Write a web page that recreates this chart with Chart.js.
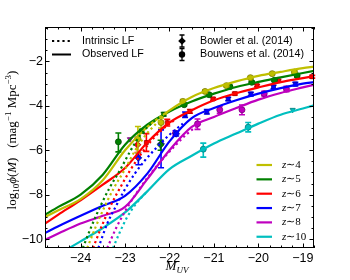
<!DOCTYPE html>
<html><head><meta charset="utf-8">
<script src="https://cdn.jsdelivr.net/npm/chart.js@4/dist/chart.umd.min.js"></script>
<style>html,body{margin:0;padding:0;background:#fff;}canvas{display:block;}</style>
</head><body>
<canvas id="c" width="350" height="280"></canvas>
<script>
// ---------------- data ----------------
const magGrid = [-24.8,-24.5,-24,-23.5,-23,-22.5,-22,-21.5,-21,-20.5,-20,-19.5,-19,-18.75];
const obsZ4 = [-9.0,-8.7,-8.2,-7.35,-6.0,-4.95,-4.2,-3.6,-3.2,-2.9,-2.65,-2.47,-2.3,-2.23];
const obsZ5 = [-8.9,-8.55,-8.0,-7.1,-5.75,-4.85,-4.25,-3.8,-3.45,-3.15,-2.92,-2.72,-2.52,-2.42];
const obsZ6 = [-9.3,-8.9,-8.25,-7.55,-6.8,-5.65,-4.75,-4.2,-3.75,-3.43,-3.17,-2.93,-2.75,-2.66];
const obsZ7 = [-9.72,-9.42,-8.95,-8.5,-8.05,-7.05,-5.6,-4.55,-4.1,-3.75,-3.45,-3.2,-3.0,-2.93];
const obsZ8 = [-10.03,-9.75,-9.3,-8.95,-8.55,-7.3,-6.0,-4.95,-4.5,-4.1,-3.72,-3.42,-3.17,-3.05];
const magGridZ10 = [-24.25,-24,-23.5,-23,-22.5,-22,-21.5,-21,-20.5,-20,-19.5,-19,-18.75];
const obsZ10 = [-10.4,-10.1,-9.5,-8.8,-7.85,-6.85,-6.25,-5.7,-5.25,-4.8,-4.4,-4.12,-3.98];

// intrinsic LFs (dotted), until they join the observed curves
const intMagZ4 = [-23.85,-23.65,-23.45,-23.25,-23.0,-22.8,-22.55,-22.3,-22.05];
const intZ4    = [-10.4,-9.4,-8.5,-7.7,-6.85,-6.1,-5.35,-4.8,-4.3];
const intMagZ5 = [-23.95,-23.75,-23.55,-23.35,-23.1,-22.9,-22.65,-22.4,-22.15];
const intZ5    = [-10.4,-9.4,-8.5,-7.7,-6.85,-6.1,-5.3,-4.78,-4.4];
const intMagZ6 = [-23.72,-23.5,-23.3,-23.1,-22.9,-22.65,-22.4,-22.15,-21.9];
const intZ6    = [-10.4,-9.3,-8.4,-7.65,-6.95,-6.2,-5.55,-5.05,-4.65];
const intMagZ7 = [-23.6,-23.4,-23.2,-23.0,-22.78,-22.55,-22.3,-22.0,-21.7];
const intZ7    = [-10.4,-9.3,-8.5,-7.75,-7.05,-6.45,-5.9,-5.3,-4.8];
const intMagZ8 = [-23.4,-23.2,-23.0,-22.75,-22.5,-22.2,-21.9,-21.6,-21.3];
const intZ8    = [-10.4,-9.5,-8.75,-7.95,-7.25,-6.5,-5.85,-5.25,-4.8];
const intMagZ10 = [-23.27,-23.12,-22.95,-22.75,-22.5];
const intZ10    = [-10.4,-9.7,-9.0,-8.4,-7.85];

// measured points: magnitude, log phi, error up, error down, marker
const ptMagZ4 = [-22.71,-22.19,-21.70,-21.20,-20.72,-20.18,-19.69,-19.19];
const ptPhiZ4 = [-5.48,-4.75,-3.80,-3.35,-3.09,-2.73,-2.55,-2.48];
const ptErrUpZ4 = [0.55,0.2,0.08,0.06,0.05,0.05,0.05,0.06];
const ptErrDnZ4 = [0.63,0.25,0.1,0.06,0.05,0.05,0.05,0.06];
const ptMarkZ4 = ['circle','circle','circle','circle','circle','circle','circle','circle'];

const ptMagZ5 = [-23.15,-22.62,-22.2,-22.13,-21.67,-21.11,-20.64,-20.15,-19.64,-19.13];
const ptPhiZ5 = [-5.62,-5.14,-5.75,-4.38,-3.95,-3.50,-3.14,-2.94,-2.85,-2.64];
const ptErrUpZ5 = [0.4,0.08,0.2,0.08,0.06,0.05,0.05,0.05,0.05,0.06];
const ptErrDnZ5 = [0.45,0.08,0.25,0.08,0.06,0.05,0.05,0.05,0.05,0.06];
const ptMarkZ5 = ['circle','rect','rectRot','rect','circle','circle','circle','circle','circle','circle'];

const ptMagZ6 = [-22.72,-22.52,-22.05,-21.54,-21.02,-20.53,-20.03,-19.55,-18.79];
const ptPhiZ6 = [-5.75,-5.65,-4.76,-4.25,-3.69,-3.45,-3.09,-2.87,-2.69];
const ptErrUpZ6 = [0.3,0.4,0.15,0.08,0.06,0.06,0.05,0.05,0.06];
const ptErrDnZ6 = [0.35,0.4,0.15,0.08,0.06,0.06,0.05,0.05,0.06];
const ptMarkZ6 = ['rectRot','rect','rect','rect','rect','rect','rect','rect','rect'];

const ptMagZ7 = [-22.70,-22.19,-21.85,-21.65,-21.16,-20.68,-20.17,-19.66,-19.17];
const ptPhiZ7 = [-6.34,-5.71,-5.26,-4.40,-4.27,-3.69,-3.47,-3.15,-3.02];
const ptErrUpZ7 = [0.23,0.63,0.1,0.12,0.1,0.08,0.08,0.08,0.08];
const ptErrDnZ7 = [0.31,1.08,0.1,0.12,0.1,0.08,0.08,0.08,0.08];
const ptMarkZ7 = ['rectRot','rectRot','rectRot','rect','rect','rect','rect','rect','rect'];

const ptMagZ8 = [-22.89,-21.87,-21.37,-20.87,-20.37,-19.87,-19.37];
const ptPhiZ8 = [-5.50,-5.23,-4.81,-4.18,-4.18,-3.45,-3.24];
const ptErrUpZ8 = [0,0.1,0.22,0.15,0.22,0.1,0.12];
const ptErrDnZ8 = [0,0.1,0.25,0.15,0.22,0.1,0.12];
const ptMarkZ8 = ['triangleDown','rectRot','circle','circle','circle','circle','circle'];

const ptMagZ10 = [-21.24,-20.23,-19.23];
const ptPhiZ10 = [-5.95,-4.96,-4.18];
const ptErrUpZ10 = [0.27,0.21,0];
const ptErrDnZ10 = [0.36,0.21,0];
const ptMarkZ10 = ['circle','circle','triangleDown'];

const legendZ = ['z\u223C4','z\u223C5','z\u223C6','z\u223C7','z\u223C8','z\u223C10'];
const xTicks = [-24,-23,-22,-21,-20,-19];
const yTicks = [-10,-8,-6,-4,-2];

// ---------------- styles ----------------
const colors = ['#bfbf00','#008000','#ff0000','#0000ff','#bf00bf','#00bfbf'];
const edge   = ['#7a7a00','#004d00','#a00000','#00009a','#7a007a','#007a7a'];

const series = [
  {obsM: magGrid, obs: obsZ4, intM: intMagZ4, int: intZ4, pM: ptMagZ4, p: ptPhiZ4, eu: ptErrUpZ4, ed: ptErrDnZ4, mk: ptMarkZ4},
  {obsM: magGrid, obs: obsZ5, intM: intMagZ5, int: intZ5, pM: ptMagZ5, p: ptPhiZ5, eu: ptErrUpZ5, ed: ptErrDnZ5, mk: ptMarkZ5},
  {obsM: magGrid, obs: obsZ6, intM: intMagZ6, int: intZ6, pM: ptMagZ6, p: ptPhiZ6, eu: ptErrUpZ6, ed: ptErrDnZ6, mk: ptMarkZ6},
  {obsM: magGrid, obs: obsZ7, intM: intMagZ7, int: intZ7, pM: ptMagZ7, p: ptPhiZ7, eu: ptErrUpZ7, ed: ptErrDnZ7, mk: ptMarkZ7},
  {obsM: magGrid, obs: obsZ8, intM: intMagZ8, int: intZ8, pM: ptMagZ8, p: ptPhiZ8, eu: ptErrUpZ8, ed: ptErrDnZ8, mk: ptMarkZ8},
  {obsM: magGridZ10, obs: obsZ10, intM: intMagZ10, int: intZ10, pM: ptMagZ10, p: ptPhiZ10, eu: ptErrUpZ10, ed: ptErrDnZ10, mk: ptMarkZ10}
];

const zip = (xs, ys) => xs.map((x, i) => ({x: x, y: ys[i]}));
const datasets = [];
series.forEach((s, i) => {
  datasets.push({type: 'line', data: zip(s.intM, s.int), borderColor: colors[i], borderWidth: 2.2,
    borderDash: [2.2, 3], pointRadius: 0, cubicInterpolationMode: 'monotone', fill: false});
});
series.forEach((s, i) => {
  datasets.push({type: 'line', data: zip(s.obsM, s.obs), borderColor: colors[i], borderWidth: 2.2,
    pointRadius: 0, cubicInterpolationMode: 'monotone', fill: false});
});
series.forEach((s, i) => {
  datasets.push({type: 'scatter', data: zip(s.pM, s.p), showLine: false, errIdx: i,
    pointStyle: s.mk.map(m => m === 'triangleDown' ? 'triangle' : m),
    rotation: s.mk.map(m => m === 'triangleDown' ? 180 : 0),
    pointRadius: s.mk.map(m => m === 'rect' ? 2.8 : (m === 'rectRot' ? 3.4 : 3.0)),
    backgroundColor: colors[i], borderColor: edge[i], borderWidth: 0.8});
});

const fmt = v => (v < 0 ? '\u2212' : '') + Math.abs(v);

const frame = {
  id: 'frame',
  beforeDatasetDraw(chart, args) {
    const ds = chart.data.datasets[args.index];
    if (ds.errIdx === undefined) return;
    const s = series[ds.errIdx];
    const ctx = chart.ctx, xs = chart.scales.x, ys = chart.scales.y;
    ctx.save();
    ctx.strokeStyle = colors[ds.errIdx];
    ctx.lineWidth = 1.6;
    s.pM.forEach((m, k) => {
      if (!s.eu[k] && !s.ed[k]) return;
      const px = xs.getPixelForValue(m);
      const y1 = ys.getPixelForValue(s.p[k] + s.eu[k]);
      const y2 = ys.getPixelForValue(s.p[k] - s.ed[k]);
      ctx.beginPath();
      ctx.moveTo(px, y1); ctx.lineTo(px, y2);
      ctx.moveTo(px - 3, y1); ctx.lineTo(px + 3, y1);
      ctx.moveTo(px - 3, y2); ctx.lineTo(px + 3, y2);
      ctx.stroke();
    });
    ctx.restore();
  },
  afterDraw(chart) {
    const ctx = chart.ctx, a = chart.chartArea, xs = chart.scales.x, ys = chart.scales.y;
    ctx.save();
    ctx.strokeStyle = '#000'; ctx.lineWidth = 1;
    ctx.strokeRect(Math.round(a.left) + 0.5, Math.round(a.top) + 0.5, Math.round(a.right - a.left) - 1, Math.round(a.bottom - a.top) - 1);
    // inward ticks on all four sides
    ctx.beginPath();
    for (let v = -24.75; v <= -18.75 + 1e-6; v += 0.25) {
      const px = Math.round(xs.getPixelForValue(v)) + 0.5;
      const major = Math.abs(v - Math.round(v)) < 1e-6;
      const L = major ? 4.5 : 2.5;
      ctx.moveTo(px, a.bottom); ctx.lineTo(px, a.bottom - L);
      ctx.moveTo(px, a.top); ctx.lineTo(px, a.top + L);
    }
    for (let v = -10; v <= -0.5 + 1e-6; v += 0.5) {
      const py = Math.round(ys.getPixelForValue(v)) + 0.5;
      const major = Math.abs(v / 2 - Math.round(v / 2)) < 1e-6;
      const L = major ? 4.5 : 2.5;
      ctx.moveTo(a.left, py); ctx.lineTo(a.left + L, py);
      ctx.moveTo(a.right, py); ctx.lineTo(a.right - L, py);
    }
    ctx.stroke();

    // legend 1 (line styles)
    ctx.fillStyle = '#000';
    ctx.font = '10.7px "Liberation Sans", Arial, sans-serif';
    ctx.textBaseline = 'middle'; ctx.textAlign = 'left';
    ctx.lineWidth = 2;
    ctx.setLineDash([2.2, 3]);
    ctx.beginPath(); ctx.moveTo(52, 41); ctx.lineTo(71, 41); ctx.stroke();
    ctx.setLineDash([]);
    ctx.beginPath(); ctx.moveTo(52, 54.5); ctx.lineTo(71, 54.5); ctx.stroke();
    ctx.fillText('Intrinsic LF', 82, 41);
    ctx.fillText('Observed LF', 82, 54.5);

    // legend 2 (data sources)
    const mk = (y, style) => {
      ctx.lineWidth = 1.3;
      ctx.beginPath();
      ctx.moveTo(182, y - 6); ctx.lineTo(182, y + 6);
      ctx.moveTo(179.5, y - 6); ctx.lineTo(184.5, y - 6);
      ctx.moveTo(179.5, y + 6); ctx.lineTo(184.5, y + 6);
      ctx.stroke();
      ctx.beginPath();
      if (style === 'd') { ctx.moveTo(182, y - 3.8); ctx.lineTo(185.8, y); ctx.lineTo(182, y + 3.8); ctx.lineTo(178.2, y); ctx.closePath(); }
      else ctx.arc(182, y, 3.2, 0, Math.PI * 2);
      ctx.fill();
    };
    mk(41, 'd'); mk(54.5, 'o');
    ctx.fillText('Bowler et al. (2014)', 200, 41);
    ctx.fillText('Bouwens et al. (2014)', 200, 54.5);

    // legend 3 (redshifts)
    legendZ.forEach((lab, i) => {
      const y = 165 + i * 14.35;
      ctx.strokeStyle = colors[i]; ctx.lineWidth = 2.2;
      ctx.beginPath(); ctx.moveTo(256.5, y); ctx.lineTo(272, y); ctx.stroke();
      ctx.fillStyle = '#000';
      ctx.font = 'italic 11px "Liberation Serif", serif';
      ctx.fillText('z', 282, y);
      const w = ctx.measureText('z').width;
      ctx.font = '11px "Liberation Serif", serif';
      ctx.fillText(lab.slice(1), 282 + w, y);
    });

    // axis titles
    const rich = (parts, x, y) => {
      let w = 0;
      parts.forEach(p => { ctx.font = p.f; p.w = ctx.measureText(p.t).width; w += p.w; });
      let cx = x - w / 2;
      parts.forEach(p => { ctx.font = p.f; ctx.fillText(p.t, cx, y + (p.dy || 0)); cx += p.w; });
    };
    ctx.fillStyle = '#000';
    ctx.textBaseline = 'alphabetic';
    const R = '13px "Liberation Serif", serif', I = 'italic 13px "Liberation Serif", serif', S = '9px "Liberation Serif", serif';
    rich([{t: 'M', f: I}, {t: 'UV', f: 'italic 9px "Liberation Serif", serif', dy: 3}], 177, 270);
    ctx.save();
    ctx.translate(16, 140); ctx.rotate(-Math.PI / 2);
    rich([{t: 'log', f: R}, {t: '10', f: S, dy: 3}, {t: '\u03D5', f: I}, {t: '(', f: R}, {t: 'M', f: I}, {t: ')', f: R},
          {t: '   (mag', f: R}, {t: '\u22121', f: S, dy: -5}, {t: ' Mpc', f: R}, {t: '\u22123', f: S, dy: -5}, {t: ')', f: R}], 0, 0);
    ctx.restore();
    ctx.restore();
  }
};

new Chart(document.getElementById('c'), {
  data: {datasets: datasets},
  options: {
    responsive: false, animation: false, devicePixelRatio: 1,
    layout: {padding: {left: 0, right: 36, top: 27, bottom: 0}},
    plugins: {legend: {display: false}, tooltip: {enabled: false}},
    scales: {
      x: {type: 'linear', min: -24.8, max: -18.75,
        grid: {display: false, drawTicks: false}, border: {display: false},
        afterFit: s => { s.height = 32; },
        afterBuildTicks: s => { s.ticks = xTicks.map(v => ({value: v})); },
        ticks: {padding: 3, autoSkip: false, maxRotation: 0, color: '#000',
          font: {family: '"Liberation Sans", Arial, sans-serif', size: 12.5}, callback: v => fmt(v)}},
      y: {type: 'linear', min: -10.4, max: -0.45,
        grid: {display: false, drawTicks: false}, border: {display: false},
        afterFit: s => { s.width = 45; },
        afterBuildTicks: s => { s.ticks = yTicks.map(v => ({value: v})); },
        ticks: {padding: 2, autoSkip: false, color: '#000',
          font: {family: '"Liberation Sans", Arial, sans-serif', size: 12.5}, callback: v => fmt(v)}}
    }
  },
  plugins: [frame]
});
</script>
</body></html>
